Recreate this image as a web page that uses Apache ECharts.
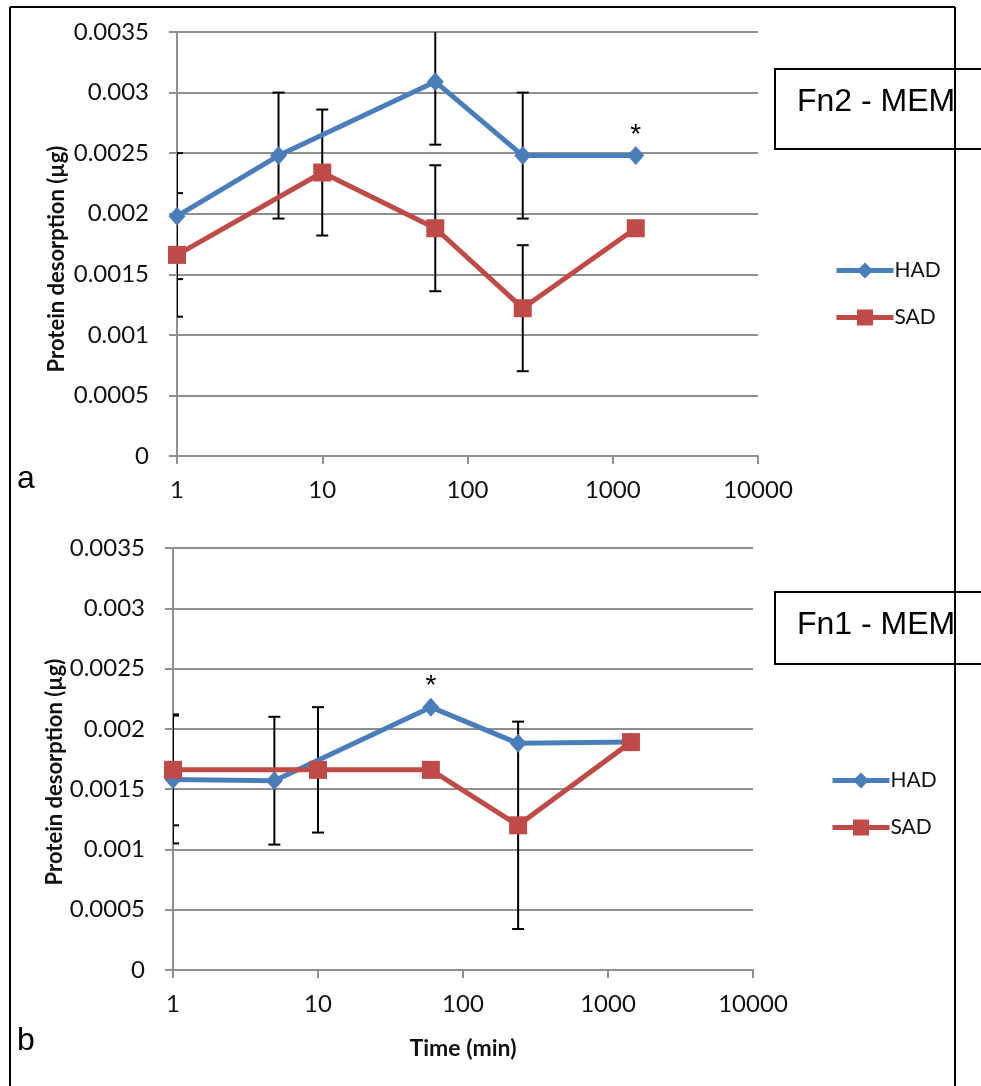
<!DOCTYPE html>
<html>
<head>
<meta charset="utf-8">
<script src="https://cdn.jsdelivr.net/npm/echarts@6/dist/echarts.min.js"></script>
<style>
html,body{margin:0;padding:0;background:#fff;}
#c{width:981px;height:1086px;}
</style>
</head>
<body>
<div id="c"></div>
<script>
// ---- data ----
const xTicks = [1, 10, 100, 1000, 10000];
const seriesNames = ['HAD', 'SAD'];
const panelTitles = ['Fn2 - MEM', 'Fn1 - MEM'];
const panelLetters = ['a', 'b'];
const yTitle = 'Protein desorption (µg)';
const xTitle = 'Time (min)';

// Panel a (Fn2 - MEM)
const fn2HadTime = [1, 5, 60, 240, 1440];
const fn2HadVal  = [0.00198, 0.00248, 0.00309, 0.00248, 0.00248];
const fn2HadErr  = [0.00052, 0.00052, 0.00052, 0.00052, null];
const fn2SadTime = [1, 10, 60, 240, 1440];
const fn2SadVal  = [0.00166, 0.00234, 0.00188, 0.00122, 0.00188];
const fn2SadErr  = [0.00051, 0.00052, 0.00052, 0.00052, null];
const fn2Star    = {series: 'HAD', time: 1440};

// Panel b (Fn1 - MEM)
const fn1HadTime = [1, 5, 60, 240, 1440];
const fn1HadVal  = [0.00158, 0.00157, 0.00218, 0.00188, 0.00189];
const fn1HadErr  = [0.00053, 0.00053, null, null, null];
const fn1SadTime = [1, 10, 60, 240, 1440];
const fn1SadVal  = [0.00166, 0.00166, 0.00166, 0.00120, 0.00189];
const fn1SadErr  = [0.00046, 0.00052, null, 0.00086, null];
const fn1Star    = {series: 'HAD', time: 60};

const Y_MIN = 0, Y_MAX = 0.0035, Y_STEP = 0.0005;

// ---- styles ----
const BLUE = '#4A7EBB', RED = '#BE4B48';
const GRID_COLOR = '#8f8f8f';
const LABEL_FONT = 'Lato';

const chart = echarts.init(document.getElementById('c'), null, {renderer: 'canvas'});

const grids = [
  {left: 177, top: 32, width: 581, height: 424},
  {left: 173, top: 548, width: 580, height: 422}
];

function xAxisFor(i) {
  return {
    type: 'log', logBase: 10, min: 1, max: 10000, gridIndex: i,
    axisLine: {show: true, lineStyle: {color: GRID_COLOR, width: 2}},
    axisTick: {show: true, length: 8, inside: false, lineStyle: {color: GRID_COLOR, width: 2}},
    axisLabel: {
      margin: 22, color: '#111', fontFamily: LABEL_FONT, fontSize: 24,
      formatter: v => { const r = Math.round(v); return xTicks.indexOf(r) >= 0 ? String(r) : ''; }
    },
    minorTick: {show: false},
    splitLine: {show: false},
    name: i === 1 ? xTitle : '',
    nameLocation: 'middle', nameGap: 67,
    nameTextStyle: {fontFamily: LABEL_FONT, fontWeight: 'bold', fontSize: 23, color: '#111'}
  };
}
function yAxisFor(i) {
  return {
    type: 'value', min: Y_MIN, max: Y_MAX, interval: Y_STEP, gridIndex: i,
    axisLine: {show: true, lineStyle: {color: GRID_COLOR, width: 2}},
    axisTick: {show: true, length: 8, lineStyle: {color: GRID_COLOR, width: 2}},
    axisLabel: {
      margin: 28, color: '#111', fontFamily: LABEL_FONT, fontSize: 24,
      formatter: v => String(+v.toFixed(4))
    },
    splitLine: {show: true, lineStyle: {color: GRID_COLOR, width: 2}}
  };
}

function lineData(times, vals, star, name) {
  return times.map((t, k) => {
    const item = {value: [t, vals[k]]};
    if (star && star.series === name && star.time === t) {
      item.label = {show: true, formatter: '*', position: 'top', distance: -3,
        fontFamily: 'Liberation Sans', fontSize: 28, color: '#000'};
    }
    return item;
  });
}
function errData(times, vals, errs) {
  const out = [];
  times.forEach((t, k) => { if (errs[k] != null) out.push([t, vals[k], errs[k]]); });
  return out;
}
function renderErr(params, api) {
  const t = api.value(0), v = api.value(1), e = api.value(2);
  const hi = api.coord([t, v + e]);
  const lo = api.coord([t, v - e]);
  const cap = 6;
  return {
    type: 'group',
    children: [
      {type: 'line', shape: {x1: hi[0], y1: hi[1], x2: lo[0], y2: lo[1]}, style: {stroke: '#000', lineWidth: 2}},
      {type: 'line', shape: {x1: hi[0] - cap, y1: hi[1], x2: hi[0] + cap, y2: hi[1]}, style: {stroke: '#000', lineWidth: 2}},
      {type: 'line', shape: {x1: lo[0] - cap, y1: lo[1], x2: lo[0] + cap, y2: lo[1]}, style: {stroke: '#000', lineWidth: 2}}
    ]
  };
}

const panels = [
  {had: [fn2HadTime, fn2HadVal, fn2HadErr], sad: [fn2SadTime, fn2SadVal, fn2SadErr], star: fn2Star},
  {had: [fn1HadTime, fn1HadVal, fn1HadErr], sad: [fn1SadTime, fn1SadVal, fn1SadErr], star: fn1Star}
];

const series = [];
panels.forEach((p, i) => {
  series.push({type: 'custom', name: 'HAD err', xAxisIndex: i, yAxisIndex: i, clip: true, z: 1,
    data: errData(p.had[0], p.had[1], p.had[2]), renderItem: renderErr, silent: true});
  series.push({type: 'custom', name: 'SAD err', xAxisIndex: i, yAxisIndex: i, clip: true, z: 1,
    data: errData(p.sad[0], p.sad[1], p.sad[2]), renderItem: renderErr, silent: true});
  series.push({type: 'line', name: seriesNames[0], xAxisIndex: i, yAxisIndex: i, z: 2,
    data: lineData(p.had[0], p.had[1], p.star, 'HAD'),
    symbol: 'diamond', symbolSize: [17, 19], showAllSymbol: true,
    lineStyle: {color: BLUE, width: 5}, itemStyle: {color: BLUE}, animation: false});
  series.push({type: 'line', name: seriesNames[1], xAxisIndex: i, yAxisIndex: i, z: 3,
    data: lineData(p.sad[0], p.sad[1], null, 'SAD'),
    symbol: 'rect', symbolSize: 18, showAllSymbol: true,
    lineStyle: {color: RED, width: 5}, itemStyle: {color: RED}, animation: false});
});

const legendBase = {
  orient: 'vertical', data: seriesNames, itemWidth: 57, itemHeight: 20, itemGap: 26,
  lineStyle: {width: 5},
  textStyle: {fontFamily: LABEL_FONT, fontSize: 21, color: '#111', padding: [0, 0, 0, -4]},
  selectedMode: false
};

function boxGraphic(x, y, w, h, text) {
  return {
    type: 'group', left: x, top: y, z: 100,
    children: [
      {type: 'rect', shape: {x: 0, y: 0, width: w, height: h}, style: {fill: '#fff', stroke: '#000', lineWidth: 2}},
      {type: 'text', x: 22, y: 17, style: {text: text, fontFamily: 'Liberation Sans', fontSize: 32, fill: '#000'}}
    ]
  };
}
function yTitleGraphic(cx, cy) {
  return {type: 'text', x: cx, y: cy, rotation: Math.PI / 2, z: 60,
    style: {text: yTitle, fontFamily: LABEL_FONT, fontWeight: 'bold', fontSize: 22, fill: '#111',
      align: 'center', verticalAlign: 'middle'}};
}

const option = {
  backgroundColor: '#fff',
  animation: false,
  grid: grids,
  xAxis: [xAxisFor(0), xAxisFor(1)],
  yAxis: [yAxisFor(0), yAxisFor(1)],
  legend: [
    Object.assign({left: 829, top: 255}, legendBase),
    Object.assign({left: 825, top: 765}, legendBase)
  ],
  series: series,
  graphic: [
    {type: 'line', shape: {x1: 10, y1: 7, x2: 955, y2: 7}, style: {stroke: '#000', lineWidth: 2}, z: 50},
    {type: 'line', shape: {x1: 10, y1: 7, x2: 10, y2: 1086}, style: {stroke: '#000', lineWidth: 2}, z: 50},
    {type: 'line', shape: {x1: 955, y1: 7, x2: 955, y2: 1086}, style: {stroke: '#000', lineWidth: 2}, z: 50},
    boxGraphic(774, 68, 230, 80, panelTitles[0]),
    boxGraphic(774, 591, 230, 72, panelTitles[1]),
    yTitleGraphic(57, 259),
    yTitleGraphic(55, 772),
    {type: 'text', left: 17, top: 463, style: {text: panelLetters[0], fontFamily: 'Liberation Sans', fontSize: 32, fill: '#000'}},
    {type: 'text', left: 17, top: 1025, style: {text: panelLetters[1], fontFamily: 'Liberation Sans', fontSize: 32, fill: '#000'}}
  ]
};
chart.setOption(option);
</script>
</body>
</html>
